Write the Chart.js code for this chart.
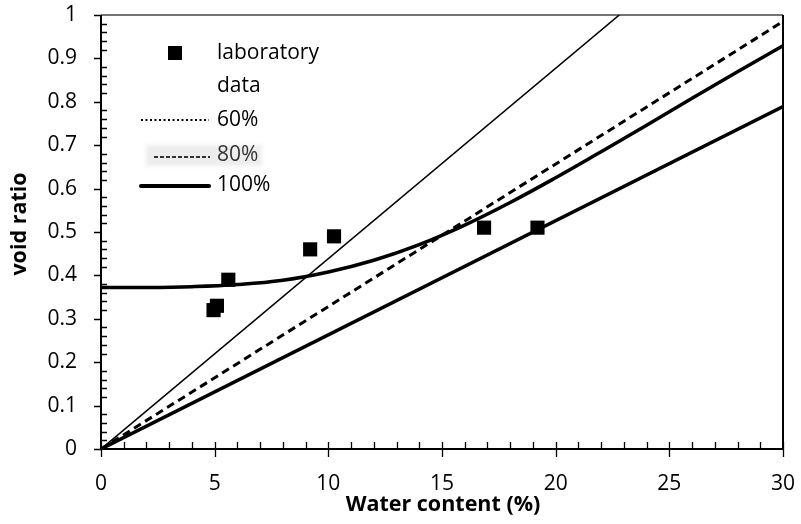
<!DOCTYPE html>
<html>
<head>
<meta charset="utf-8">
<script src="https://cdn.jsdelivr.net/npm/chart.js@4"></script>
<style>
  html, body { margin: 0; padding: 0; background: #fff; }
  #wrap { width: 801px; height: 524px; }
</style>
</head>
<body>
<div id="wrap"><canvas id="c" width="801" height="524"></canvas></div>
<script>
// Laboratory measurements: water content (%) and void ratio
const labWater = [4.95, 5.1, 5.6, 9.2, 10.25, 16.85, 19.2];
const labVoid  = [0.32, 0.33, 0.39, 0.46, 0.49, 0.51, 0.51];

// Saturation lines e = w·Gs / S, given by their end points
const sat60 = [[0, 0], [22.8, 1.0]];
const sat80 = [[0, 0], [30, 0.985]];
const sat100 = [[0, 0], [30, 0.789]];

// Fitted trend of the measured data
const trendWater = [0, 2, 4, 6, 8, 10, 12, 14, 16, 18, 20, 22, 24, 26, 28, 30];
const trendVoid  = [0.372, 0.372, 0.374, 0.379, 0.389, 0.408, 0.435, 0.471, 0.516, 0.568, 0.625, 0.685, 0.746, 0.808, 0.869, 0.929];

const xTicks = [0, 5, 10, 15, 20, 25, 30];
const yTicks = [0, 0.1, 0.2, 0.3, 0.4, 0.5, 0.6, 0.7, 0.8, 0.9, 1];
const xTickLabels = ['0', '5', '10', '15', '20', '25', '30'];
const yTickLabels = ['0', '0.1', '0.2', '0.3', '0.4', '0.5', '0.6', '0.7', '0.8', '0.9', '1'];

const legendItems = [
  { label: ['laboratory', 'data'], kind: 'square' },
  { label: ['60%'], kind: 'dotted' },
  { label: ['80%'], kind: 'dashed' },
  { label: ['100%'], kind: 'thick' }
];

const FONT = '"Open Sans", "Liberation Sans", sans-serif';
const toXY = (xs, ys) => xs.map((x, i) => ({ x, y: ys[i] }));
const pairs = p => p.map(([x, y]) => ({ x, y }));

// keep the plot area fixed: no extra room reserved for overhanging labels
const noOverhang = s => { s.paddingTop = 0; s.paddingBottom = 0; s.paddingLeft = 0; s.paddingRight = 0; };

// Axes, tick marks, frame, axis titles and the legend box
const decor = {
  id: 'decor',
  beforeDatasetsDraw(chart) {
    const { ctx, chartArea: a, scales: { x, y } } = chart;
    ctx.save();
    // top and right border
    ctx.strokeStyle = '#444';
    ctx.lineWidth = 1.5;
    ctx.beginPath();
    ctx.moveTo(a.left, a.top); ctx.lineTo(a.right, a.top);
    ctx.stroke();
    ctx.strokeStyle = '#000';
    ctx.lineWidth = 2;
    ctx.beginPath();
    ctx.moveTo(a.right, a.top); ctx.lineTo(a.right, a.bottom);
    ctx.stroke();
    // axis lines
    ctx.lineWidth = 2;
    ctx.beginPath();
    ctx.moveTo(a.left, a.top); ctx.lineTo(a.left, a.bottom + 1);
    ctx.moveTo(a.left - 1, a.bottom); ctx.lineTo(a.right, a.bottom);
    ctx.stroke();
    // x ticks: minor every 1 (inside), major every 5 (crossing)
    ctx.lineWidth = 1.3;
    ctx.beginPath();
    for (let k = 0; k <= 30; k++) {
      const px = Math.round(x.getPixelForValue(k)) + 0.5;
      const major = k % 5 === 0;
      ctx.moveTo(px, a.bottom - 7);
      ctx.lineTo(px, a.bottom + (major ? 8 : 0));
    }
    // y ticks: minor every 0.02 (inside), major every 0.1 (outside)
    for (let k = 0; k <= 50; k++) {
      const py = Math.round(y.getPixelForValue(k * 0.02)) + 0.5;
      if (k % 5 === 0) {
        ctx.moveTo(a.left - 7, py); ctx.lineTo(a.left, py);
      } else {
        ctx.moveTo(a.left, py); ctx.lineTo(a.left + 6, py);
      }
    }
    ctx.stroke();
    ctx.restore();
  },
  afterDraw(chart) {
    const { ctx } = chart;
    ctx.save();
    ctx.fillStyle = '#000';
    // axis titles
    ctx.font = 'bold 21.5px ' + FONT;
    ctx.textAlign = 'center';
    ctx.textBaseline = 'middle';
    ctx.fillText('Water content (%)', 443, 505);
    ctx.translate(20, 224);
    ctx.rotate(-Math.PI / 2);
    ctx.fillText('void ratio', 0, 0);
    ctx.restore();

    // legend
    ctx.save();
    ctx.font = '21px ' + FONT;
    ctx.textAlign = 'left';
    ctx.textBaseline = 'middle';
    const tx = 217;
    // laboratory data
    ctx.fillStyle = '#000';
    ctx.fillRect(168, 46, 14, 14);
    ctx.fillText(legendItems[0].label[0], tx, 53);
    ctx.fillText(legendItems[0].label[1], tx, 86);
    // 60%
    ctx.strokeStyle = '#000';
    ctx.lineWidth = 2;
    ctx.setLineDash([2, 2.5]);
    ctx.beginPath(); ctx.moveTo(141, 120); ctx.lineTo(209, 120); ctx.stroke();
    ctx.fillText(legendItems[1].label[0], tx, 120);
    // 80% with its faded backdrop
    ctx.save();
    ctx.filter = 'blur(2px)';
    ctx.fillStyle = 'rgba(0,0,0,0.07)';
    ctx.fillRect(146, 145, 116, 21);
    ctx.restore();
    ctx.save();
    ctx.filter = 'blur(0.6px)';
    ctx.strokeStyle = '#333';
    ctx.setLineDash([4, 2]);
    ctx.lineWidth = 2;
    ctx.beginPath(); ctx.moveTo(154, 157); ctx.lineTo(210, 157); ctx.stroke();
    ctx.fillStyle = '#333';
    ctx.fillText(legendItems[2].label[0], tx, 155);
    ctx.restore();
    // 100%
    ctx.setLineDash([]);
    ctx.lineWidth = 4;
    ctx.lineCap = 'round';
    ctx.beginPath(); ctx.moveTo(141, 186); ctx.lineTo(209, 186); ctx.stroke();
    ctx.fillText(legendItems[3].label[0], tx, 185);
    ctx.restore();
  }
};

new Chart(document.getElementById('c'), {
  type: 'scatter',
  data: {
    datasets: [
      {
        label: 'laboratory data',
        data: toXY(labWater, labVoid),
        pointStyle: 'rect',
        pointRadius: 10,
        backgroundColor: '#000',
        borderColor: '#000',
        borderWidth: 0,
        order: 0
      },
      {
        label: '60%',
        data: pairs(sat60),
        showLine: true,
        borderColor: '#000',
        borderWidth: 1.6,
        pointRadius: 0,
        order: 1
      },
      {
        label: '80%',
        data: pairs(sat80),
        showLine: true,
        borderColor: '#000',
        borderWidth: 3,
        borderDash: [8, 5],
        pointRadius: 0,
        order: 1
      },
      {
        label: '100%',
        data: pairs(sat100),
        showLine: true,
        borderColor: '#000',
        borderWidth: 3.5,
        pointRadius: 0,
        order: 1
      },
      {
        label: 'trend',
        data: toXY(trendWater, trendVoid),
        showLine: true,
        borderColor: '#000',
        borderWidth: 3.5,
        tension: 0.4,
        pointRadius: 0,
        order: 1
      }
    ]
  },
  options: {
    responsive: false,
    animation: false,
    events: [],
    layout: { autoPadding: false, padding: { left: 0, right: 18, top: 15, bottom: 0 } },
    plugins: { legend: { display: false }, tooltip: { enabled: false } },
    scales: {
      x: {
        type: 'linear',
        min: 0, max: 30,
        afterBuildTicks: s => { s.ticks = xTicks.map(v => ({ value: v })); },
        afterFit: s => { s.height = 75; noOverhang(s); },
        grid: { display: false, drawTicks: false, tickLength: 0 },
        border: { display: false },
        ticks: {
          color: '#000', font: { family: FONT, size: 21 }, padding: 22, maxRotation: 0,
          callback: (v, i) => xTickLabels[i]
        },
        title: { display: false }
      },
      y: {
        type: 'linear',
        min: 0, max: 1,
        afterBuildTicks: s => { s.ticks = yTicks.map(v => ({ value: v })); },
        afterFit: s => { s.width = 101; noOverhang(s); },
        grid: { display: false, drawTicks: false, tickLength: 0 },
        border: { display: false },
        ticks: {
          color: '#000', font: { family: FONT, size: 21 }, padding: 24,
          callback: (v, i) => yTickLabels[i]
        },
        title: { display: false }
      }
    }
  },
  plugins: [decor]
});
</script>
</body>
</html>
